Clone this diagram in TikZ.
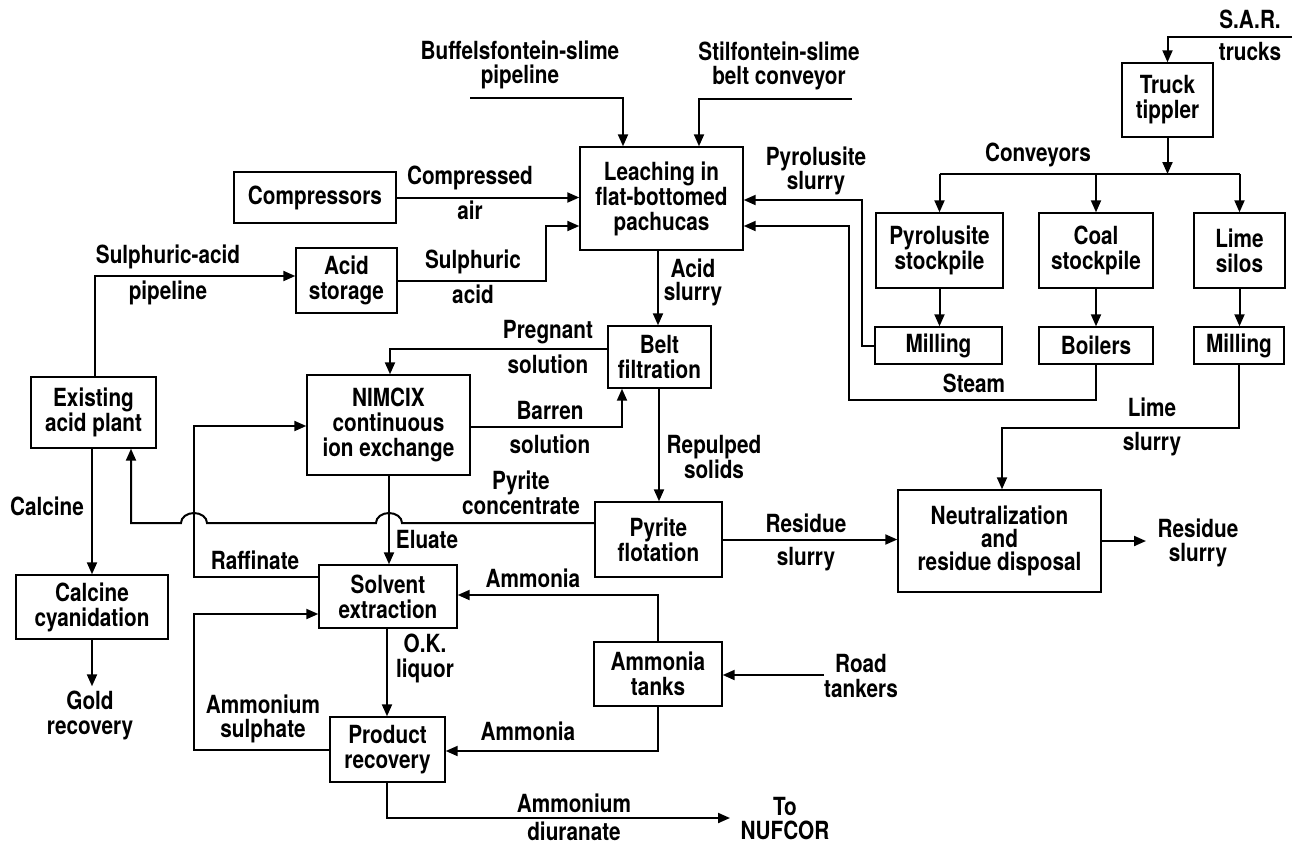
\documentclass[tikz,border=0pt]{standalone}
\usepackage{fontspec}
\newfontfamily\diafont{TeX Gyre Heros}[FakeStretch=0.83]
\usetikzlibrary{arrows.meta}
\newcommand\dfont{\diafont\bfseries\fontsize{25}{25}\selectfont}
\newcommand\nfont{\diafont\bfseries\fontsize{25}{23}\selectfont}
\tikzset{
  box/.style={draw, line width=1.4pt, inner sep=0pt, align=center, font=\dfont},
  lbl/.style={inner sep=0pt, font=\dfont, text height=18pt, text depth=5pt},
  conn/.style={line width=2pt, -{Triangle[length=12pt,width=10pt]}},
  plain/.style={line width=2pt},
}
\begin{document}
\begin{tikzpicture}[x=1pt,y=-1pt]
\useasboundingbox (0,0) rectangle (1299,847);
% boxes
\node[box, minimum width=163pt, minimum height=103pt] (leach) at (661.5,198.5) {Leaching in\\flat-bottomed\\pachucas};
\node[box, minimum width=162pt, minimum height=51pt] (comp) at (315,197.5) {Compressors};
\node[box, minimum width=101pt, minimum height=65pt] (acidst) at (346.5,280.5) {Acid\\storage};
\node[box, minimum width=125pt, minimum height=71pt] (exist) at (93.5,412.5) {Existing\\acid plant};
\node[box, minimum width=152pt, minimum height=64pt] (calcy) at (92,607) {Calcine\\cyanidation};
\node[box, minimum width=163pt, minimum height=100pt] (nimcix) at (388.5,425) {NIMCIX\\continuous\\ion exchange};
\node[box, minimum width=103pt, minimum height=62pt] (belt) at (659.5,357) {Belt\\filtration};
\node[box, minimum width=127pt, minimum height=75pt] (pyrfl) at (658.5,539.5) {Pyrite\\flotation};
\node[box, minimum width=138pt, minimum height=63pt] (solv) at (388,596.5) {Solvent\\extraction};
\node[box, minimum width=115pt, minimum height=65pt] (prod) at (387.5,749.5) {Product\\recovery};
\node[box, minimum width=128pt, minimum height=64pt] (amtank) at (658,674) {Ammonia\\tanks};
\node[box, minimum width=91pt, minimum height=74pt] (tipp) at (1167.5,100) {Truck\\tippler};
\node[box, minimum width=127pt, minimum height=75pt] (pyrst) at (939.5,250.5) {Pyrolusite\\stockpile};
\node[box, minimum width=114pt, minimum height=75pt] (coal) at (1096,250.5) {Coal\\stockpile};
\node[box, minimum width=91pt, minimum height=75pt] (lime) at (1239.5,250.5) {Lime\\silos};
\node[box, minimum width=127pt, minimum height=37pt] (mill1) at (938.5,345.5) {Milling};
\node[box, minimum width=114pt, minimum height=37pt] (boil) at (1096,345.5) {Boilers};
\node[box, minimum width=90pt, minimum height=37pt] (mill2) at (1239,345.5) {Milling};
\node[box, font=\nfont, minimum width=203pt, minimum height=102pt] (neut) at (999.5,541) {Neutralization\\and\\residue disposal};

% labels
\node[lbl] (l1) at (520,53) {Buffelsfontein-slime};
\node[lbl] (l2) at (520,77) {pipeline};
\node[lbl] (l3) at (779,54) {Stilfontein-slime};
\node[lbl] (l4) at (779,78) {belt conveyor};
\node[lbl] (l5) at (470,178) {Compressed};
\node[lbl] (l6) at (470,213) {air};
\node[lbl] (l7) at (168,257) {Sulphuric-acid};
\node[lbl] (l8) at (168,293) {pipeline};
\node[lbl] (l9) at (473,262) {Sulphuric};
\node[lbl] (l10) at (473,297) {acid};
\node[lbl] (l11) at (693,271) {Acid};
\node[lbl] (l12) at (693,294) {slurry};
\node[lbl] (l13) at (816,159) {Pyrolusite};
\node[lbl] (l14) at (816,183) {slurry};
\node[lbl] (l15) at (1038,155) {Conveyors};
\node[lbl] (l16) at (1250,22) {S.A.R.};
\node[lbl] (l17) at (1250,54) {trucks};
\node[lbl] (l18) at (548,332) {Pregnant};
\node[lbl] (l19) at (548,367) {solution};
\node[lbl] (l20) at (550,413) {Barren};
\node[lbl] (l21) at (550,447) {solution};
\node[lbl] (l22) at (974,386) {Steam};
\node[lbl] (l23) at (1152,410) {Lime};
\node[lbl] (l24) at (1152,444) {slurry};
\node[lbl] (l25) at (714,447) {Repulped};
\node[lbl] (l26) at (714,472) {solids};
\node[lbl] (l27) at (521,483) {Pyrite};
\node[lbl] (l28) at (521,508) {concentrate};
\node[lbl] (l29) at (47,509) {Calcine};
\node[lbl] (l30) at (806,526) {Residue};
\node[lbl] (l31) at (806,559) {slurry};
\node[lbl] (l32) at (1198,531) {Residue};
\node[lbl] (l33) at (1198,555) {slurry};
\node[lbl] (l34) at (427,542) {Eluate};
\node[lbl] (l35) at (255,563) {Raffinate};
\node[lbl] (l36) at (533,581) {Ammonia};
\node[lbl] (l37) at (425,646) {O.K.};
\node[lbl] (l38) at (425,671) {liquor};
\node[lbl] (l39) at (861,666) {Road};
\node[lbl] (l40) at (861,691) {tankers};
\node[box, draw=none, inner sep=4pt] (gold) at (90,715.5) {Gold\\recovery};
\node[lbl] (l43) at (263,707) {Ammonium};
\node[lbl] (l44) at (263,731) {sulphate};
\node[lbl] (l45) at (528,734) {Ammonia};
\node[lbl] (l46) at (574,806) {Ammonium};
\node[lbl] (l47) at (574,834) {diuranate};
\node[lbl] (l48) at (785,809) {To};
\node[lbl] (l49) at (785,833) {NUFCOR};

% coordinates
\coordinate (bfs) at (470,98);
\coordinate (bfx) at (623,0);
\coordinate (sfs) at (852,99);
\coordinate (sfx) at (699,0);
\coordinate (sa) at (546,226);
\coordinate (spx) at (95,0);
\coordinate (sp) at (95,276);
\coordinate (cax) at (92,0);
\coordinate (asx) at (658,0);
\coordinate (pg) at (390,349);
\coordinate (br) at (622,427);
\coordinate (rpx) at (659,0);
\coordinate (pc) at (131,523);
\coordinate (elx) at (389,0);
\coordinate (rf) at (194,577);
\coordinate (rf2) at (194,426);
\coordinate (as1) at (194,750);
\coordinate (as2) at (194,614);
\coordinate (okx) at (387,0);
\coordinate (am1) at (658,595);
\coordinate (am2) at (658,751);
\coordinate (rd) at (824,675);
\coordinate (ad) at (387,818);
\coordinate (ade) at (730,818);
\coordinate (sar) at (1292,37);
\coordinate (cv) at (1167.5,174);
\coordinate (ps) at (862,200);
\coordinate (st1) at (1096,400);
\coordinate (st2) at (849,226);
\coordinate (ls) at (1002,428);
\coordinate (rse) at (1146,541);

% connectors
\draw[conn] (bfs) -| (bfx |- leach.north);
\draw[conn] (sfs) -| (sfx |- leach.north);
\draw[conn] (comp.east) -- (comp.east -| leach.west);
\draw[conn] (acidst.east) -| (sa) -- (sa -| leach.west);
\draw[conn] (spx |- exist.north) -- (sp) -- (sp -| acidst.west);
\draw[conn] (cax |- exist.south) -- (cax |- calcy.north);
\draw[conn] (cax |- calcy.south) -- (cax |- gold.north);
\draw[conn] (asx |- leach.south) -- (asx |- belt.north);
\draw[conn] (belt.west |- pg) -- (pg) -- (pg |- nimcix.north);
\draw[conn] (nimcix.east |- br) -- (br) -- (br |- belt.south);
\draw[conn] (rpx |- belt.south) -- (rpx |- pyrfl.north);
\draw[conn] (pyrfl.west |- pc) -- (402,523) arc[start angle=0, end angle=180, x radius=13pt, y radius=10pt]
   -- (207,523) arc[start angle=0, end angle=180, x radius=13pt, y radius=10pt]
   -- (pc) -- (pc |- exist.south);
\draw[conn] (elx |- nimcix.south) -- (elx |- solv.north);
\draw[conn] (solv.west |- rf) -- (rf) -- (rf2) -- (rf2 -| nimcix.west);
\draw[conn] (prod.west |- as1) -- (as1) -- (as2) -- (as2 -| solv.west);
\draw[conn] (okx |- solv.south) -- (okx |- prod.north);
\draw[conn] (amtank.north) -- (am1) -- (am1 -| solv.east);
\draw[conn] (amtank.south) -- (am2) -- (am2 -| prod.east);
\draw[conn] (rd) -- (rd -| amtank.east);
\draw[conn] (okx |- prod.south) -- (ad) -- (ade);
\draw[conn] (sar) -| (tipp.north);
\draw[conn] (tipp.south) -- (cv);
\draw[plain] (cv -| pyrst.north) -- (cv -| lime.north);
\draw[conn] (cv -| pyrst.north) -- (pyrst.north);
\draw[conn] (cv -| coal.north) -- (coal.north);
\draw[conn] (cv -| lime.north) -- (lime.north);
\draw[conn] (pyrst.south) -- (pyrst.south |- mill1.north);
\draw[conn] (coal.south) -- (boil.north);
\draw[conn] (lime.south) -- (lime.south |- mill2.north);
\draw[conn] (mill1.west) -| (ps) -- (ps -| leach.east);
\draw[conn] (boil.south) -- (st1) -| (st2) -- (st2 -| leach.east);
\draw[conn] (mill2.south) |- (ls) -- (ls |- neut.north);
\draw[conn] (pyrfl.east) -- (pyrfl.east -| neut.west);
\draw[conn] (neut.east) -- (rse);
\end{tikzpicture}
\end{document}
